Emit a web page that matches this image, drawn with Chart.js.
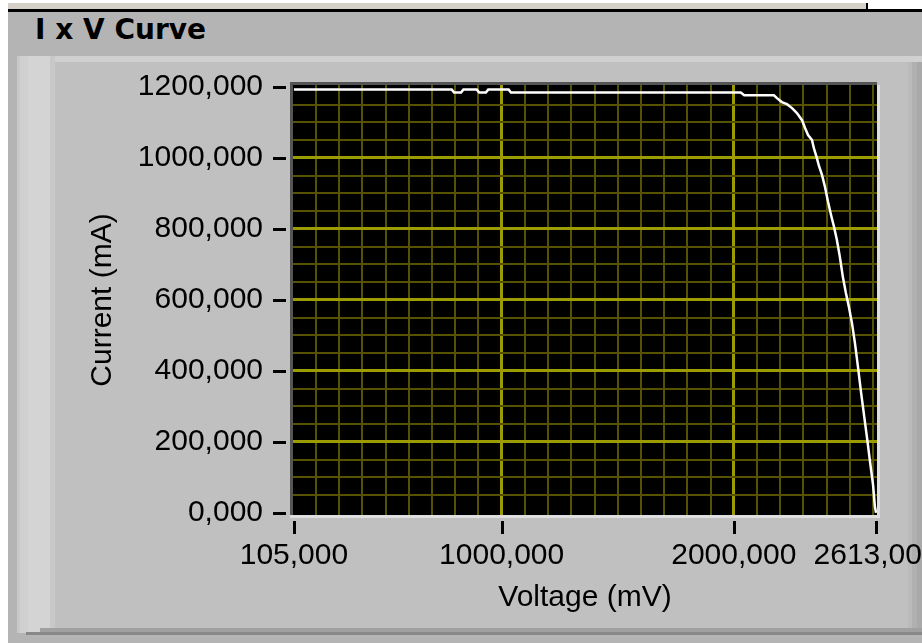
<!DOCTYPE html>
<html>
<head>
<meta charset="utf-8">
<script src="https://cdn.jsdelivr.net/npm/chart.js@4/dist/chart.umd.min.js"></script>
<style>
  html, body { margin: 0; padding: 0; }
  body { width: 922px; height: 643px; position: relative; overflow: hidden; background: #b4b4b4; }
  .box { position: absolute; }
  #title { position: absolute; left: 35px; top: 16px; font: bold 28px "DejaVu Sans"; line-height: 1; color: #000; }
  #chart { position: absolute; left: 0; top: 0; }
</style>
</head>
<body>
<!-- LabVIEW style frame -->
<div class="box" style="left:0;top:0;width:922px;height:3px;background:#fff"></div>
<div class="box" style="left:8px;top:3px;width:858px;height:6px;background:#d4d0c8"></div>
<div class="box" style="left:866px;top:3px;width:2px;height:6px;background:#000"></div>
<div class="box" style="left:868px;top:3px;width:54px;height:6px;background:#fff"></div>
<div class="box" style="left:8px;top:9px;width:914px;height:3px;background:#000"></div>
<div class="box" style="left:0;top:0;width:8px;height:643px;background:#fff"></div>
<div class="box" style="left:17px;top:56px;width:905px;height:6px;background:#d0d0d0"></div>
<div class="box" style="left:17px;top:56px;width:38px;height:577px;background:linear-gradient(to right,#c8c8c8 0 3px,#d0d0d0 3px 11px,#d4d4d4 11px 33px,#c8c8c8 33px 38px)"></div>
<div class="box" style="left:55px;top:62px;width:853px;height:566px;background:#c0c0c0"></div>
<div class="box" style="left:908px;top:62px;width:14px;height:566px;background:linear-gradient(to right,#bababa 0 4px,#b0b0b0 4px 9px,#a9a9a9 9px 14px)"></div>
<div class="box" style="left:40px;top:628px;width:882px;height:4px;background:#a0a0a0"></div>
<div class="box" style="left:26px;top:632px;width:896px;height:3px;background:#888"></div>
<div id="title">I x V Curve</div>
<canvas id="chart" width="922" height="643"></canvas>
<script>
// I x V curve
const voltage = [105, 785, 795, 825, 835, 893, 903, 932, 942, 1030, 1040, 2030, 2045,
  2173, 2186, 2207, 2229, 2251, 2272, 2294, 2307, 2320, 2337,
  2345, 2358, 2367, 2380, 2393, 2406, 2419, 2432, 2444, 2457,
  2470, 2483, 2496, 2509, 2522, 2535, 2548, 2561, 2574, 2587,
  2600, 2608, 2613];
const current = [1192, 1192, 1184, 1184, 1192, 1192, 1184, 1184, 1192, 1192, 1184, 1184, 1176,
  1176, 1168, 1157, 1151, 1140, 1126, 1106, 1084, 1064, 1050,
  1027, 999, 977, 952, 918, 876, 839, 805, 769, 721,
  664, 619, 580, 535, 478, 411, 341, 276, 211, 144,
  79, 17, 0];

const xLabelTicks = [105, 1000, 2000, 2613];
const xMajorGrid = [1000, 2000];
const xGridStep = 100;
const yLabelTicks = [0, 200, 400, 600, 800, 1000, 1200];
const yGridStep = 50;

const minorColor = '#565200';
const majorColor = '#9c9c00';
const labelFont = { family: 'Liberation Sans', size: 30 };

function fmt(v) { return v.toFixed(3).replace('.', ','); }

function xGridValues() {
  const vals = [xLabelTicks[0]];
  for (let v = xGridStep * 2; v < xLabelTicks[xLabelTicks.length - 1]; v += xGridStep) vals.push(v);
  vals.push(xLabelTicks[xLabelTicks.length - 1]);
  return vals;
}
function yGridValues() {
  const vals = [];
  for (let v = 0; v <= 1200; v += yGridStep) vals.push(v);
  return vals;
}

const plotFrame = {
  id: 'plotFrame',
  beforeDraw(chart) {
    const { ctx, chartArea: a } = chart;
    ctx.save();
    ctx.fillStyle = '#000';
    ctx.fillRect(a.left, a.top, a.right - a.left, a.bottom - a.top);
    ctx.fillStyle = '#555555';
    ctx.fillRect(a.left - 3, a.top - 3, a.right - a.left + 3, 3);
    ctx.fillRect(a.left - 3, a.top - 3, 3, a.bottom - a.top + 3);
    ctx.fillStyle = '#dedede';
    ctx.fillRect(a.right, a.top, 3, a.bottom - a.top + 3);
    ctx.fillRect(a.left - 3, a.bottom, a.right - a.left + 6, 3);
    ctx.restore();
  },
  afterDraw(chart) {
    const { ctx, chartArea: a, scales } = chart;
    ctx.save();
    ctx.fillStyle = '#000';
    xLabelTicks.forEach(v => {
      const px = Math.round(scales.x.getPixelForValue(v));
      ctx.fillRect(px - 1, a.bottom + 6, 3, 13);
    });
    yLabelTicks.forEach(v => {
      const py = Math.round(scales.y.getPixelForValue(v));
      ctx.fillRect(a.left - 20, py - 1, 13, 3);
    });
    ctx.restore();
  }
};

new Chart(document.getElementById('chart'), {
  type: 'line',
  data: {
    datasets: [{
      data: voltage.map((v, i) => ({ x: v, y: current[i] })),
      borderColor: '#ffffff',
      borderWidth: 2.5,
      pointRadius: 0,
      tension: 0,
      fill: false
    }]
  },
  options: {
    responsive: false,
    animation: false,
    layout: { padding: { left: 0, right: 45, top: 85, bottom: 0 } },
    plugins: { legend: { display: false }, tooltip: { enabled: false } },
    scales: {
      x: {
        type: 'linear',
        min: 101,
        max: 2617,
        afterBuildTicks: s => { s.ticks = xGridValues().map(v => ({ value: v })); },
        afterFit: s => { s.height = 128; s.paddingLeft = 0; s.paddingRight = 0; },
        ticks: {
          autoSkip: false,
          maxRotation: 0,
          minRotation: 0,
          padding: 23,
          color: '#000',
          font: labelFont,
          callback: v => xLabelTicks.includes(v) ? fmt(v) : ''
        },
        grid: {
          drawTicks: false,
          color: c => {
            const v = c.tick.value;
            if (v === xLabelTicks[0] || v === xLabelTicks[xLabelTicks.length - 1]) return 'rgba(0,0,0,0)';
            return xMajorGrid.includes(v) ? majorColor : minorColor;
          },
          lineWidth: c => xMajorGrid.includes(c.tick.value) ? 3 : 2
        },
        border: { display: false },
        title: {
          display: true,
          text: 'Voltage (mV)',
          color: '#000',
          font: labelFont,
          padding: { top: 0, bottom: 27 }
        }
      },
      y: {
        min: -6,
        max: 1205,
        afterBuildTicks: s => { s.ticks = yGridValues().map(v => ({ value: v })); },
        afterFit: s => { s.width = 293; s.paddingTop = 0; s.paddingBottom = 0; },
        ticks: {
          autoSkip: false,
          padding: 30,
          color: '#000',
          font: labelFont,
          callback: v => yLabelTicks.includes(v) ? fmt(v) : ''
        },
        grid: {
          drawTicks: false,
          color: c => {
            const v = c.tick.value;
            if (v === 0 || v === 1200) return 'rgba(0,0,0,0)';
            return v % 200 === 0 ? majorColor : minorColor;
          },
          lineWidth: c => c.tick.value % 200 === 0 ? 3 : 2
        },
        border: { display: false },
        title: {
          display: true,
          text: 'Current (mA)',
          color: '#000',
          font: labelFont,
          padding: { top: 85, bottom: 0 }
        }
      }
    }
  },
  plugins: [plotFrame]
});
</script>
</body>
</html>
